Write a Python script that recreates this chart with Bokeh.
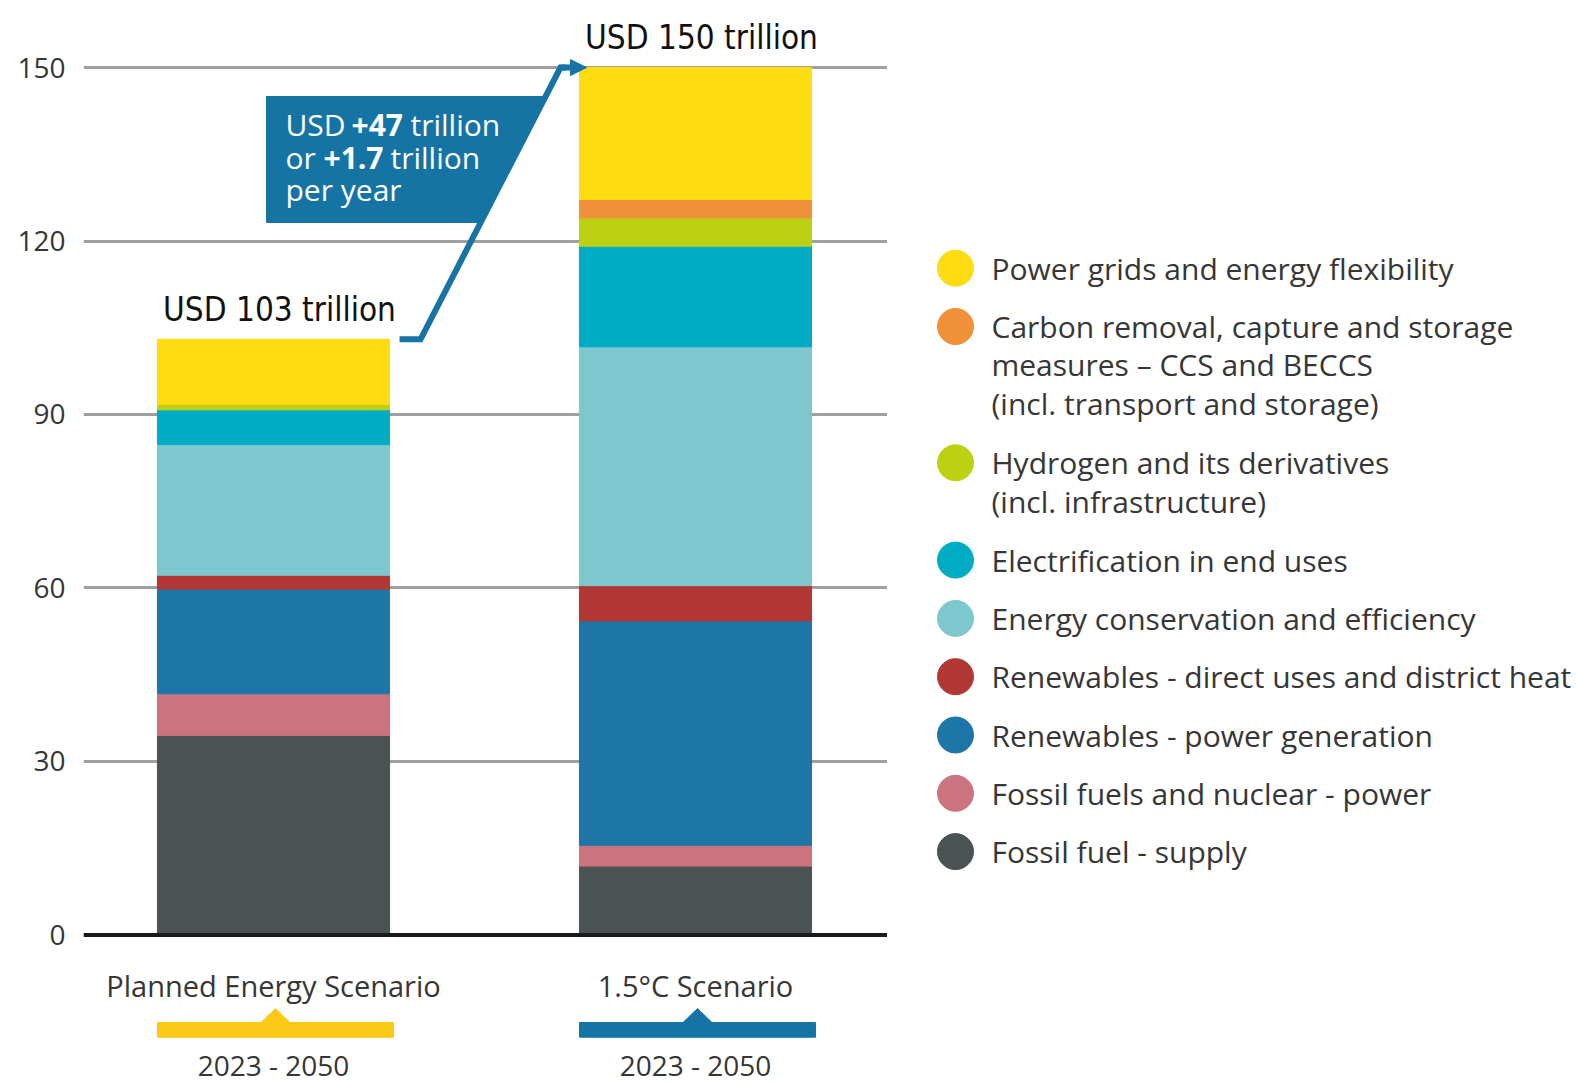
from bokeh.plotting import figure
from bokeh.models import ColumnDataSource, Range1d, FixedTicker, Span, Arrow, NormalHead
from bokeh.layouts import row
from bokeh.embed import file_html
from bokeh.resources import INLINE
from bokeh.core.properties import value

# ---------------- data ----------------
scenarios = ["Planned Energy Scenario", "1.5°C Scenario"]
periods = ["2023 - 2050", "2023 - 2050"]
period_years = (2023, 2050)
categories = [
    "Fossil fuel - supply",
    "Fossil fuels and nuclear - power",
    "Renewables - power generation",
    "Renewables - direct uses and district heat",
    "Energy conservation and efficiency",
    "Electrification in end uses",
    "Hydrogen and its derivatives\n(incl. infrastructure)",
    "Carbon removal, capture and storage\nmeasures \u2013 CCS and BECCS\n(incl. transport and storage)",
    "Power grids and energy flexibility",
]
planned = [34.5, 7.2, 18.1, 2.4, 22.6, 6.0, 0.9, 0.0, 11.3]
pathway = [11.9, 3.6, 38.8, 6.1, 41.3, 17.4, 4.9, 3.2, 22.8]
colors = ["#4B5254", "#CB737F", "#1D75A8", "#B23836", "#7CC8CE",
          "#00ABC4", "#BDD113", "#F0913A", "#FDDC12"]
yticks = [0, 30, 60, 90, 120, 150]
band_colors = ["#FCC916", "#1573A5"]
callout_color = "#1674A4"

totals = [round(sum(planned), 1), round(sum(pathway), 1)]
diff = round(totals[1] - totals[0])
per_year = diff / (period_years[1] - period_years[0] + 1)

# ---------------- layout constants ----------------
PX_Y = 5.7823               # pixels per unit on y
PX_X = 422.0                # pixels per unit on x
ZERO_PX = 934.4             # screen y of value 0
def vy(px):                 # screen px -> y value
    return (ZERO_PX - px) / PX_Y

FONT = "Open Sans"
NARROW = "DejaVu Sans Condensed, Liberation Sans Narrow, Roboto Condensed, Roboto"
TXT = "#363636"

# ---------------- chart ----------------
x_start = -(273 - 83) / PX_X
x_end = x_start + (887 - 83) / PX_X
p = figure(width=887, height=1085, output_backend="svg", toolbar_location=None,
           x_range=Range1d(x_start, x_end), y_range=Range1d(vy(1085), vy(0)),
           x_axis_location=None, min_border_left=83, min_border_right=0,
           min_border_top=0, min_border_bottom=0)
p.outline_line_color = None
p.xgrid.visible = False
p.ygrid.ticker = FixedTicker(ticks=yticks)
p.ygrid.grid_line_color = "#9F9F9F"
p.ygrid.grid_line_width = 3
p.yaxis.ticker = FixedTicker(ticks=yticks)
p.yaxis.axis_line_color = None
p.yaxis.major_tick_line_color = None
p.yaxis.minor_tick_line_color = None
p.yaxis.major_tick_out = 0
p.yaxis.major_label_standoff = 18
p.yaxis.major_label_text_font = FONT
p.yaxis.major_label_text_font_size = "28px"
p.yaxis.major_label_text_color = TXT

keys = [f"s{i}" for i in range(len(categories))]
data = {"x": [0, 1]}
for k, a, b in zip(keys, planned, pathway):
    data[k] = [a, b]
src = ColumnDataSource(data)
p.vbar_stack(keys, x="x", width=0.55, color=colors, source=src)

p.add_layout(Span(location=0, dimension="width", line_color="#1A1A1A", line_width=4))

# totals above bars
p.text(x=[0, 1], y=totals, text=[f"USD {t:g} trillion" for t in totals],
       x_offset=6, y_offset=-30, text_align="center", text_baseline="alphabetic",
       text_font=value(NARROW), text_font_size="33px", text_color="#111111")

# scenario labels and period bands
p.text(x=[0, 1], y=[0, 0], text=scenarios, y_offset=51, text_align="center",
       text_baseline="middle", text_font=value(FONT), text_font_size="29px", text_color=TXT)
p.text(x=[0, 1], y=[0, 0], text=periods, y_offset=130, text_align="center",
       text_baseline="middle", text_font=value(FONT), text_font_size="28px", text_color=TXT)

hw, nw = 118.0 / PX_X, 14.5 / PX_X
yb, yt, ya = vy(1036.7), vy(1022), vy(1008)
bxs, bys = [], []
for i in range(2):
    c = i + 2 / PX_X
    bxs.append([c - hw, c + hw, c + hw, c + nw, c, c - nw, c - hw])
    bys.append([yb, yb, yt, yt, ya, yt, yt])
p.patches(bxs, bys, fill_color=band_colors, line_color=band_colors)

# callout
x_a0, x_a1 = 0.275 + 10 / PX_X, 0.275 + 31 / PX_X
x_a2 = 1 - 0.275 - 19 / PX_X
def line_x(v):
    return x_a1 + (x_a2 - x_a1) * (v - totals[0]) / (totals[1] - totals[0])
box_left = -7 / PX_X
box_top, box_bot = vy(96), vy(222)
p.patch([box_left, line_x(box_top), line_x(box_bot), box_left],
        [box_top, box_top, box_bot, box_bot], fill_color=callout_color, line_color=callout_color)
p.line([x_a0, x_a1, x_a2, x_a2 + 6 / PX_X], [totals[0], totals[0], totals[1], totals[1]],
       line_color=callout_color, line_width=6, line_join="miter")
p.add_layout(Arrow(end=NormalHead(size=16, fill_color=callout_color, line_color=callout_color),
                   x_start=x_a2, y_start=totals[1], x_end=x_a2 + 26 / PX_X, y_end=totals[1],
                   line_color=callout_color, line_width=6))

tx = box_left + 19 / PX_X
runs = [
    ("USD ", 0, 28, "normal"), (f"+{diff}", 66, 28, "bold"), ("trillion", 125, 28, "normal"),
    ("or ", 0, 61, "normal"), (f"+{per_year:.1f}", 38, 61, "bold"), ("trillion", 105, 61, "normal"),
    ("per year", 0, 93, "normal"),
]
for t, dx, dy, st in runs:
    p.text(x=[tx], y=[box_top], text=[t], x_offset=dx, y_offset=dy, text_align="left",
           text_baseline="middle", text_font=value(FONT), text_font_size="30px",
           text_font_style=st, text_color="white")

# ---------------- legend ----------------
lg = figure(width=706, height=1085, output_backend="svg", toolbar_location=None,
            x_range=Range1d(887, 1593), y_range=Range1d(1085, 0),
            x_axis_location=None, y_axis_location=None, min_border=0)
lg.outline_line_color = None
lg.grid.visible = False

ly = 267.7
cy, cc, tx_l, ty_l = [], [], [], []
for cat, col in zip(reversed(categories), reversed(colors)):
    lines = cat.split("\n")
    cy.append(ly)
    cc.append(col)
    for j, ln in enumerate(lines):
        tx_l.append(ln)
        ty_l.append(ly + j * 38.3)
    ly += 58.3 + (len(lines) - 1) * 39.0
lg.scatter(x=[955] * len(cy), y=cy, size=36, fill_color=cc, line_color=cc)
lg.text(x=[991] * len(tx_l), y=ty_l, text=tx_l, text_align="left", text_baseline="middle",
        text_font=value(FONT), text_font_size="30px", text_color=TXT)

layout = row(p, lg)
open("out.html", "w").write(file_html(layout, INLINE))
